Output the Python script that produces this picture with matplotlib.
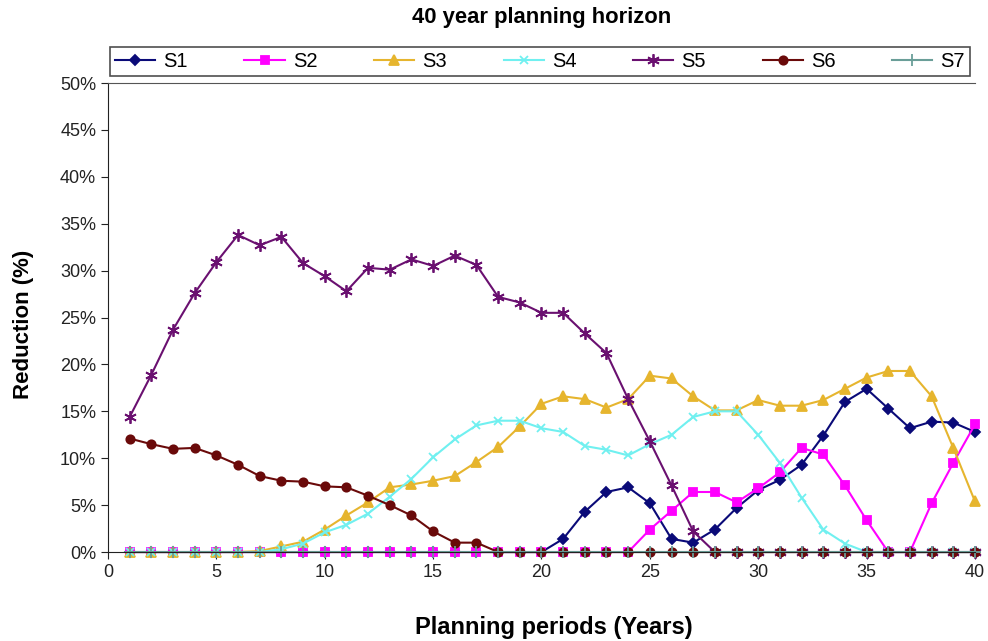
import matplotlib
matplotlib.use("Agg")
import matplotlib.pyplot as plt
import numpy as np

plt.rcParams['font.family'] = ['Liberation Sans', 'DejaVu Sans']

years = list(range(1, 41))

s1 = [0]*20 + [1.4, 4.3, 6.4, 6.9, 5.2, 1.4, 1.0, 2.4, 4.7, 6.6,
               7.7, 9.3, 12.4, 16.0, 17.4, 15.3, 13.2, 13.9, 13.8, 12.8]
s2 = [0]*24 + [2.4, 4.4, 6.4, 6.4, 5.3, 6.8, 8.5, 11.1, 10.4, 7.1,
               3.4, 0, 0, 5.2, 9.5, 13.6]
s3 = [0, 0, 0, 0, 0, 0, 0.1, 0.6, 1.1, 2.4, 3.9, 5.3, 6.9, 7.2, 7.6,
      8.1, 9.6, 11.2, 13.4, 15.8, 16.6, 16.3, 15.4, 16.3, 18.8, 18.5,
      16.6, 15.1, 15.1, 16.2, 15.6, 15.6, 16.2, 17.4, 18.6, 19.3, 19.3,
      16.6, 11.1, 5.4]
s4 = [0, 0, 0, 0, 0, 0, 0, 0.3, 0.9, 2.1, 2.9, 4.1, 5.9, 7.8, 10.1,
      12.0, 13.5, 14.0, 14.0, 13.2, 12.8, 11.3, 10.9, 10.3, 11.5, 12.5,
      14.4, 15.0, 15.0, 12.5, 9.5, 5.8, 2.4, 0.9, 0, 0, 0, 0, 0, 0]
s5 = [14.4, 18.9, 23.7, 27.6, 30.9, 33.8, 32.7, 33.6, 30.8, 29.4,
      27.8, 30.3, 30.1, 31.2, 30.5, 31.6, 30.6, 27.2, 26.6, 25.5,
      25.5, 23.3, 21.2, 16.3, 11.8, 7.1, 2.2] + [0]*13
s6 = [12.1, 11.5, 11.0, 11.1, 10.3, 9.3, 8.1, 7.6, 7.5, 7.0, 6.9, 6.0,
      5.0, 3.9, 2.2, 1.0, 1.0] + [0]*23
s7 = [0]*40

series = [
    ("S1", s1, "#0a0a78", "D", 5),
    ("S2", s2, "#ff00ff", "s", 5.5),
    ("S3", s3, "#e6b52e", "^", 6.5),
    ("S4", s4, "#70f0f0", "x", 6),
    ("S5", s5, "#6a1070", (6, 2, 0), 9),
    ("S6", s6, "#6a0a0a", "o", 6),
    ("S7", s7, "#6a9e98", "+", 8),
]

fig = plt.figure(figsize=(9.88, 6.41), dpi=100)
ax = fig.add_axes([0.1093, 0.1388, 0.8775, 0.7317])

handles = []
for name, vals, col, mk, ms in series:
    h, = ax.plot(years, vals, color=col, marker=mk, markersize=ms,
                 linewidth=1.5, markeredgewidth=1.3, label=name,
                 clip_on=False)
    handles.append(h)

ax.set_xlim(0, 40)
ax.set_ylim(0, 50)
ax.set_xticks(range(0, 41, 5))
ax.set_yticks(range(0, 51, 5))
ax.set_yticklabels([f"{v}%" for v in range(0, 51, 5)])
ax.tick_params(labelsize=13, length=5, direction='out', colors='#222222')
ax.spines['top'].set_color('#555555')
ax.spines['right'].set_visible(False)
ax.spines['left'].set_color('#222222')
ax.spines['bottom'].set_color('#222222')

ax.set_ylabel("Reduction (%)", fontsize=16, fontweight='bold')
ax.yaxis.set_label_coords(-0.097, 0.485)
ax.yaxis.label.set_va('center')
ax.set_xlabel("Planning periods (Years)", fontsize=17, fontweight='bold')
ax.xaxis.set_label_coords(0.514, -0.16)
ax.xaxis.label.set_va('center')

fig.text(0.548, 0.972, "40 year planning horizon", fontsize=15.8,
         fontweight='bold', ha='center', va='center')

leg = fig.legend(handles=handles, ncol=7, loc='lower left', mode='expand',
                 bbox_to_anchor=(110/988, 1 - 76/641, 860/988, 32/641),
                 fontsize=14.5, frameon=True, fancybox=False,
                 edgecolor='#222222', handlelength=2.0,
                 borderpad=0.25, handletextpad=0.4, borderaxespad=0)
leg.get_frame().set_linewidth(1.2)

fig.savefig("out.png", dpi=100)
